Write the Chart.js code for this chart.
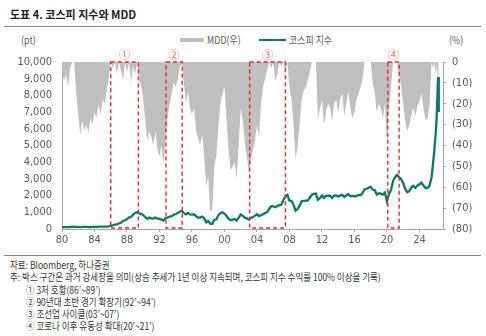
<!DOCTYPE html>
<html>
<head>
<meta charset="utf-8">
<script src="https://cdn.jsdelivr.net/npm/chart.js@4.4.1/dist/chart.umd.min.js"></script>
<style>
  body { margin: 0; width: 486px; height: 336px; background: #fff; position: relative; overflow: hidden;
         font-family: "Noto Sans CJK KR", sans-serif; color: #404040; }
  .title { position: absolute; left: 10px; top: 6px; font-size: 11px; font-weight: bold; color: #222; white-space: nowrap; }
  .rule { position: absolute; left: 4px; width: 477px; height: 1px; background: #8c8c8c; }
  .small { position: absolute; font-size: 10.5px; color: #595959; white-space: nowrap; transform-origin: left center; transform: scaleX(0.85); }
  .swatch { position: absolute; }
  .wrap { position: absolute; left: 0; top: 44px; width: 486px; height: 210px; }
  .note { position: absolute; font-size: 10px; color: #333; white-space: nowrap; transform-origin: left center; transform: scaleX(0.85); }
</style>
</head>
<body>
<div class="title">도표 4. 코스피 지수와 MDD</div>
<div class="rule" style="top:26px"></div>
<div class="small" style="left:21px;top:32px">(pt)</div>
<div class="swatch" style="left:180px;top:38px;width:24px;height:4px;background:#bfbfbf"></div>
<div class="small" style="left:207px;top:32px">MDD(우)</div>
<div class="swatch" style="left:259px;top:39px;width:27px;height:2px;background:#0a7a68"></div>
<div class="small" style="left:289px;top:32px">코스피 지수</div>
<div class="small" style="left:449px;top:32px">(%)</div>
<div class="wrap"><canvas id="myChart"></canvas></div>
<div class="rule" style="top:255px"></div>
<div class="note" style="left:10px;top:257px">자료: Bloomberg, 하나증권</div>
<div class="note" style="left:10px;top:269px">주: 박스 구간은 과거 강세장을 의미(상승 추세가 1년 이상 지속되며, 코스피 지수 수익률 100% 이상을 기록)</div>
<div class="note" style="left:26px;top:282px">① 3저 호황(86’~89’)</div>
<div class="note" style="left:26px;top:294px">② 90년대 초반 경기 확장기(92’~94’)</div>
<div class="note" style="left:26px;top:306px">③ 조선업 사이클(03’~07’)</div>
<div class="note" style="left:26px;top:318px">④ 코로나 이후 유동성 확대(20’~21’)</div>

<script>
// quarterly points 1980Q1 - 2025Q2, then a denser tail for the last rally
const tailDates = [2025.5, 2025.67, 2025.83, 2026.0, 2026.1, 2026.2, 2026.3, 2026.38];
const dates = [];
for (let y = 1980; y <= 2025.25; y += 0.25) dates.push(y);
dates.push(...tailDates);

// KOSPI index (pt)
const kospi = [
  105, 112, 118, 108,   // 1980
  118, 135, 128, 124,
  122, 118, 124, 126,
  124, 120, 118, 122,
  126, 132, 138, 142,
  140, 138, 146, 162,   // 1985
  185, 220, 260, 272,
  330, 370, 480, 520,
  600, 690, 730, 860,
  960, 1000, 930, 910,
  830, 720, 600, 690,   // 1990
  640, 620, 690, 620,
  600, 560, 500, 650,
  690, 740, 770, 850,
  900, 960, 1030, 1080,
  950, 880, 960, 880,   // 1995
  860, 880, 760, 680,
  680, 740, 640, 400,
  480, 320, 300, 540,
  580, 820, 940, 1000,
  920, 790, 620, 520,   // 2000
  560, 600, 500, 680,
  880, 790, 680, 640,
  560, 660, 720, 800,
  880, 770, 830, 880,
  960, 1010, 1200, 1370, // 2005
  1360, 1300, 1370, 1430,
  1450, 1740, 1950, 2040,
  1700, 1680, 1450, 1100,
  1180, 1400, 1660, 1680,
  1700, 1700, 1870, 2050, // 2010
  2100, 2120, 1750, 1840,
  2010, 1860, 1980, 1990,
  2000, 1860, 2000, 2010,
  1950, 2000, 2040, 1920,
  2020, 2080, 1960, 1980, // 2015
  1960, 1970, 2040, 2020,
  2150, 2380, 2400, 2480,
  2520, 2360, 2320, 2060,
  2140, 2120, 2060, 2180,
  1650, 2100, 2330, 2870, // 2020
  3100, 3250, 3100, 2980,
  2750, 2400, 2200, 2270,
  2480, 2580, 2460, 2600,
  2680, 2780, 2600, 2450,
  2450, 2600,             // 2025 H1
  3100, 3900, 4700, 5700, 6500, 7800, 9100, 7000
];

// MDD (%), right axis
const mdd = [
  -4, -9, -6, -12,       // 1980
  -3, 0, 0, -15,
  -25, -35, -28, -33,
  -30, -34, -27, -30,
  -24, -27, -20, -25,
  -18, -20, -13, -8,     // 1985
  0, -3, 0, -6,
  0, -4, -9, 0,
  -5, 0, -10, -2,
  -6, 0, -8, -12,
  -18, -28, -38, -33,    // 1990
  -36, -40, -33, -42,
  -45, -40, -49, -38,
  -27, -20, -15, -10,
  -12, -8, -3, 0,
  -10, -20, -14, -22,    // 1995
  -25, -22, -33, -36,
  -40, -35, -45, -60,
  -55, -72, -70, -50,
  -45, -30, -20, -15,
  -12, -28, -42, -52,    // 2000
  -50, -48, -56, -40,
  -22, -28, -38, -45,
  -53, -47, -42, -38,
  -30, -36, -20, -12,
  -8, -4, 0, -3,         // 2005
  0, -9, -6, 0,
  -2, 0, -5, 0,
  -12, -18, -30, -47,
  -40, -30, -18, -14,
  -12, -9, -5, 0,        // 2010
  0, 0, -28, -22,
  -18, -30, -24, -20,
  -22, -28, -20, -18,
  -24, -18, -15, -26,
  -20, -14, -22, -27,    // 2015
  -24, -18, -15, -12,
  -8, 0, 0, 0,
  0, -10, -15, -24,
  -20, -22, -27, -20,
  -40, -22, -12, 0,      // 2020
  0, 0, -6, -12,
  -20, -28, -33, -30,
  -25, -22, -26, -21,
  -19, -15, -22, -28,
  -27, -20,              // 2025 H1
  0, -3, 0, -6, 0, -10, 0, -23
];

const xTickYears = [1980, 1984, 1988, 1992, 1996, 2000, 2004, 2008, 2012, 2016, 2020, 2024];

// bull market boxes
const boxStart = [1986.0, 1992.8, 2003.1, 2020.1];
const boxEnd = [1989.4, 1994.8, 2007.5, 2021.5];
const boxMarks = ["①", "②", "③", "④"];

const tickFont = { family: "'Liberation Sans Narrow', 'DejaVu Sans Condensed', sans-serif", size: 11 };
const axisGray = "#a6a6a6";

const boxPlugin = {
  id: "boxes",
  afterDatasetsDraw(chart) {
    const { ctx, chartArea, scales } = chart;
    ctx.save();
    ctx.strokeStyle = "#e8262b";
    ctx.lineWidth = 1.4;
    ctx.setLineDash([4, 3]);
    boxStart.forEach((s, i) => {
      const x1 = scales.x.getPixelForValue(s);
      const x2 = scales.x.getPixelForValue(boxEnd[i]);
      ctx.strokeRect(x1, chartArea.top, x2 - x1, chartArea.bottom - chartArea.top - 1);
      ctx.fillStyle = "#f06a66";
      ctx.font = "11px 'Noto Sans CJK KR'";
      ctx.textAlign = "center";
      ctx.textBaseline = "middle";
      ctx.fillText(boxMarks[i], (x1 + x2) / 2, chartArea.top - 7);
    });
    ctx.restore();
  }
};

const ctx = document.getElementById("myChart");
new Chart(ctx, {
  type: "line",
  data: {
    datasets: [
      {
        label: "코스피 지수",
        data: dates.map((d, i) => ({ x: d, y: kospi[i] })),
        yAxisID: "y",
        borderColor: "#0a7a68",
        borderWidth: 2.3,
        pointRadius: 0,
        tension: 0,
        fill: false,
        order: 0,
      },
      {
        label: "MDD(우)",
        data: dates.map((d, i) => ({ x: d, y: mdd[i] })),
        yAxisID: "y2",
        borderColor: "#bfbfbf",
        borderWidth: 0,
        backgroundColor: "#bfbfbf",
        pointRadius: 0,
        tension: 0,
        fill: { value: 0 },
        order: 1,
      },
    ],
  },
  options: {
    animation: false,
    responsive: true,
    maintainAspectRatio: false,
    devicePixelRatio: 1,
    layout: { padding: { top: 18, left: 0, right: 0, bottom: 0 } },
    plugins: { legend: { display: false }, tooltip: { enabled: false } },
    scales: {
      x: {
        type: "linear",
        min: 1980,
        max: 2026.9,
        afterBuildTicks: (s) => { s.ticks = xTickYears.map((v) => ({ value: v })); },
        afterFit: (s) => { s.height = 25; },
        ticks: {
          autoSkip: false, maxRotation: 0, padding: 2, color: "#595959", font: tickFont,
          callback: (v) => String(v % 100).padStart(2, "0"),
        },
        grid: { drawOnChartArea: false, drawTicks: true, tickLength: 3, color: axisGray },
        border: { display: true, color: axisGray },
      },
      y: {
        position: "left",
        min: 0,
        max: 10000,
        afterFit: (s) => { s.width = 62; },
        ticks: { stepSize: 1000, padding: 10, color: "#595959", font: tickFont,
          callback: (v) => v.toLocaleString("en-US") },
        grid: { display: false, drawTicks: false },
        border: { display: true, color: axisGray },
      },
      y2: {
        position: "right",
        min: -80,
        max: 0,
        afterFit: (s) => { s.width = 43; },
        ticks: { stepSize: 10, padding: 6, color: "#595959", font: tickFont,
          callback: (v) => (v === 0 ? "0" : "(" + -v + ")") },
        grid: { drawOnChartArea: false, drawTicks: true, tickLength: 3, color: axisGray },
        border: { display: true, color: axisGray },
      },
    },
  },
  plugins: [boxPlugin],
});
</script>
</body>
</html>
